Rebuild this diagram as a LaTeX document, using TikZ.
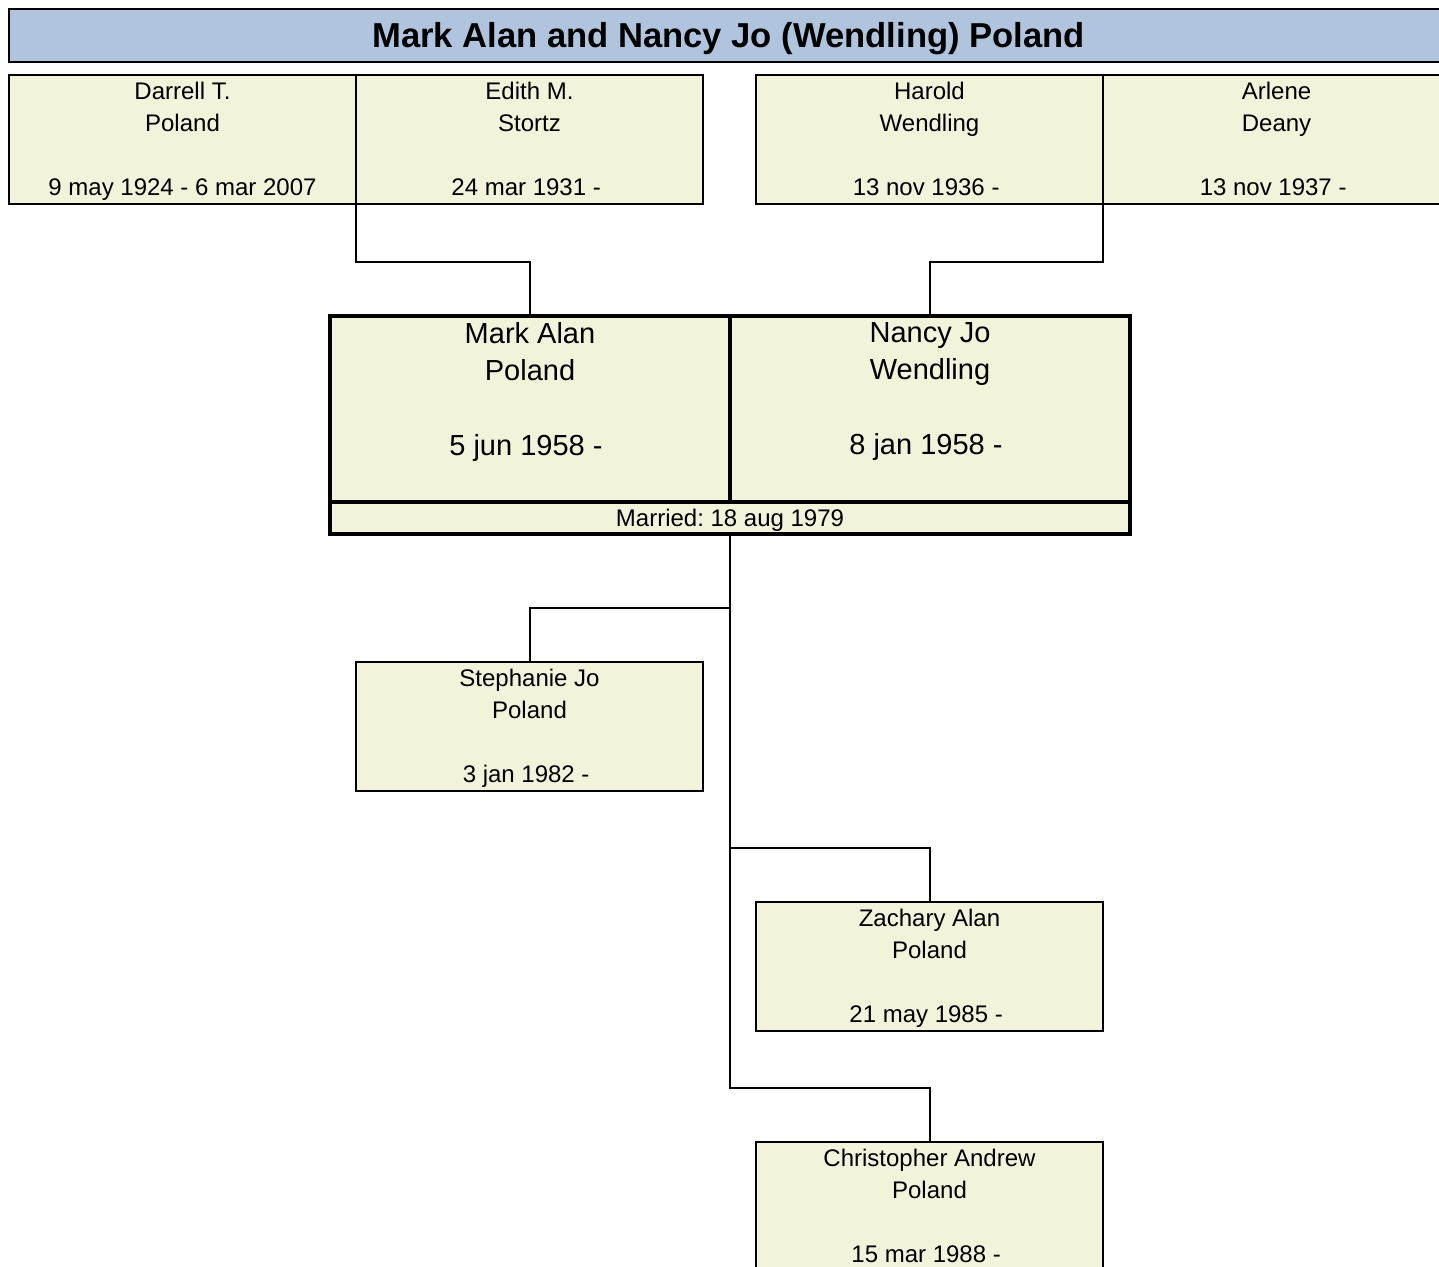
\documentclass[tikz,border=0pt]{standalone}
\usepackage{fontspec}
\setmainfont{Liberation Sans}
\usepackage{xcolor}
\usepackage{tikz}
\usetikzlibrary{positioning}
\definecolor{titleblue}{HTML}{B0C4DE}
\definecolor{boxbeige}{HTML}{F3F3DB}
\frenchspacing

\tikzset{
  titlebox/.style={draw=black, line width=1.4pt, fill=titleblue, minimum width=719.5pt, minimum height=26.5pt,
    inner sep=0pt, outer sep=0pt, anchor=north west, font=\fontsize{17.3}{20}\selectfont\bfseries,
    text height=12.4pt, text depth=0pt},
  gpbox/.style={draw=black, line width=1pt, fill=boxbeige, minimum width=173.5pt, minimum height=64.5pt,
    inner sep=0pt, outer sep=0pt, anchor=north west},
  gptext/.style={font=\fontsize{12}{16}\selectfont, align=center, inner sep=0pt, anchor=north},
  couplebox/.style={draw=black, line width=1.6pt, fill=boxbeige, minimum width=200pt, minimum height=93pt,
    inner sep=0pt, outer sep=0pt, anchor=north west},
  coupletext/.style={font=\fontsize{14.5}{18.65}\selectfont, align=center, inner sep=0pt, anchor=north},
  marriedbox/.style={draw=black, line width=1.6pt, fill=boxbeige, minimum width=400pt, minimum height=16pt,
    inner sep=0pt, outer sep=0pt, anchor=north west, font=\fontsize{12}{16}\selectfont,
    text height=8.6pt, text depth=0pt},
  link/.style={draw=black, line width=1pt},
}

\begin{document}
\begin{tikzpicture}[x=0.5pt, y=-0.5pt]
  \useasboundingbox (0,0) rectangle (1439,1266);
  \clip (0,0) rectangle (1439,1266);

  % title bar
  \node[titlebox] (title) at (9,9) {Mark Alan and Nancy Jo (Wendling) Poland};

  % grandparents
  \node[gpbox] (darrell) at (9,75) {};
  \node[gpbox, right=0pt of darrell] (edith) {};
  \node[gpbox] (harold) at (756,75) {};
  \node[gpbox, right=0pt of harold] (arlene) {};

  \node[gptext, below=3.3pt of darrell.north] (darrelltxt) {Darrell T.\\Poland\\[16pt]9 may 1924 - 6 mar 2007};
  \node[gptext, below=3.3pt of edith.north] (edithtxt) {Edith M.\\Stortz\\[16pt]24 mar 1931 -\kern.28em};
  \node[gptext, below=3.3pt of harold.north] (haroldtxt) {Harold\\Wendling\\[16pt]13 nov 1936 -\kern.28em};
  \node[gptext, below=3.3pt of arlene.north] (arlenetxt) {Arlene\\Deany\\[16pt]13 nov 1937 -\kern.28em};

  % couple
  \node[couplebox] (mark) at (330,316) {};
  \node[couplebox, right=0pt of mark] (nancy) {};
  \node[marriedbox] (married) at (mark.south west) {Married: 18 aug 1979};

  \node[coupletext, below=3pt of mark.north] (marktxt) {Mark Alan\\Poland\\[18.65pt]5 jun 1958 -\kern.28em};
  \node[coupletext, below=3pt of nancy.north] (nancytxt) {Nancy Jo\\Wendling\\[18.65pt]8 jan 1958 -\kern.28em};

  % children
  \node[gpbox] (stephanie) at (356,662) {};
  \node[gpbox] (zachary) at (756,902) {};
  \node[gpbox] (christopher) at (756,1142) {};

  \node[gptext, below=3.3pt of stephanie.north] (stephanietxt) {Stephanie Jo\\Poland\\[16pt]3 jan 1982 -\kern.28em};
  \node[gptext, below=3.3pt of zachary.north] (zacharytxt) {Zachary Alan\\Poland\\[16pt]21 may 1985 -\kern.28em};
  \node[gptext, below=3.3pt of christopher.north] (christophertxt) {Christopher Andrew\\Poland\\[16pt]15 mar 1988 -\kern.28em};

  % lines
  \draw[link] (edith.south west) -- ++(0,58) -| (mark.north);
  \draw[link] (arlene.south west) -- ++(0,58) -| (nancy.north);
  \draw[link] (stephanie.north) -- ++(0,-54) -| (married.south);
  \draw[link] (zachary.north) -- ++(0,-54) -| (married.south);
  \draw[link] (christopher.north) -- ++(0,-54) -| (married.south);
\end{tikzpicture}
\end{document}
